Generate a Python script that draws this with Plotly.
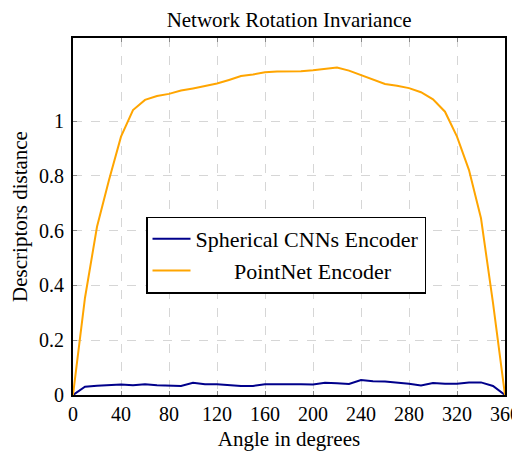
import plotly.graph_objects as go

angles = list(range(0, 361, 10))

spherical_cnn = [0.0, 0.030, 0.034, 0.035, 0.038, 0.036, 0.039, 0.036, 0.035, 0.033,
                 0.045, 0.039, 0.039, 0.035, 0.033, 0.033, 0.039, 0.039, 0.040, 0.039,
                 0.038, 0.045, 0.043, 0.040, 0.055, 0.050, 0.049, 0.046, 0.041, 0.035,
                 0.044, 0.041, 0.041, 0.046, 0.046, 0.033, 0.0]

pointnet = [0.0, 0.355, 0.614, 0.785, 0.943, 1.040, 1.077, 1.091, 1.099, 1.111,
            1.119, 1.129, 1.137, 1.150, 1.164, 1.170, 1.178, 1.181, 1.181, 1.182,
            1.185, 1.190, 1.195, 1.184, 1.167, 1.150, 1.135, 1.129, 1.120, 1.105,
            1.079, 1.034, 0.943, 0.821, 0.645, 0.336, 0.0]

x_ticks = list(range(0, 361, 40))
y_ticks = [0, 0.2, 0.4, 0.6, 0.8, 1]

font = "Liberation Serif"

fig = go.Figure()
fig.add_trace(go.Scatter(x=angles, y=spherical_cnn, mode='lines',
                         name='Spherical CNNs Encoder',
                         line=dict(color='#00008B', width=2)))
fig.add_trace(go.Scatter(x=angles, y=pointnet, mode='lines',
                         name='\u00a0\u00a0\u00a0\u00a0\u00a0\u00a0\u00a0PointNet Encoder',
                         line=dict(color='#FFA500', width=2)))

axis_style = dict(showline=True, linecolor='black', linewidth=2, mirror='ticks',
                  ticks='inside', ticklen=4, tickcolor='#888888',
                  showgrid=True, gridcolor='#d6d6d6', griddash='dash', gridwidth=1,
                  zeroline=False, automargin=False,
                  tickfont=dict(family=font, size=20, color='black'))

fig.update_xaxes(range=[0, 360], tickvals=x_ticks,
                 title=dict(text='Angle in degrees', font=dict(family=font, size=21, color='black'),
                            standoff=7),
                 **axis_style)
fig.update_yaxes(range=[0, 1.303], tickvals=y_ticks, ticklabelstandoff=3,
                 title=dict(text='Descriptors distance', font=dict(family=font, size=21, color='black'),
                            standoff=14),
                 **axis_style)

# the page body adds an 8px margin, so the figure is 8px smaller than the window
fig.update_layout(
    width=512, height=446,
    margin=dict(l=65, r=15, t=30, b=59),
    paper_bgcolor='white', plot_bgcolor='white',
    title=dict(text='Network Rotation Invariance', x=0.549, xanchor='center',
               y=0.99, yanchor='top', automargin=False,
               font=dict(family=font, size=21, color='black')),
    font=dict(family=font, color='black'),
    legend=dict(x=0.169, y=0.50, xanchor='left', yanchor='top',
                bordercolor='black', borderwidth=1.5, bgcolor='white',
                font=dict(family=font, size=22, color='black'),
                itemwidth=38, tracegroupgap=0),
    showlegend=True,
)

fig.write_html("out.html")
